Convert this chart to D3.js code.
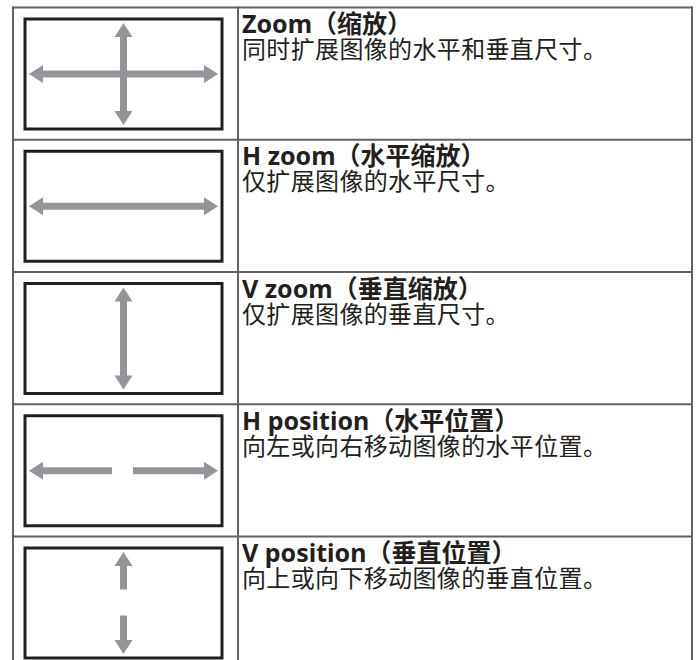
<!DOCTYPE html>
<html><head><meta charset="utf-8">
<script src="https://cdn.jsdelivr.net/npm/d3@7"></script>
<style>html,body{margin:0;padding:0;background:#fff;}svg{display:block;}</style>
</head><body>
<script>
const titles = ["Zoom（缩放）", "H zoom（水平缩放）", "V zoom（垂直缩放）", "H position（水平位置）", "V position（垂直位置）"];
const descriptions = ["同时扩展图像的水平和垂直尺寸。", "仅扩展图像的水平尺寸。", "仅扩展图像的垂直尺寸。", "向左或向右移动图像的水平位置。", "向上或向下移动图像的垂直位置。"];
// arrow kinds: "full" = double-headed, "split" = two separate arrows pointing outward, "none"
const horizontalArrow = ["full", "full", "none", "split", "none"];
const verticalArrow = ["full", "none", "full", "none", "split"];

const W = 696, H = 660;
const svg = d3.select("body").append("svg").attr("width", W).attr("height", H);

const rowIdx = d3.range(titles.length);
const tableTop = 7.5, rowH = 132.25;
const y = d3.scaleBand().domain(rowIdx).range([tableTop, tableTop + rowH * rowIdx.length]).padding(0);
const xL = 13, xMid = 238, xR = 692;

const lineColor = "#616264", boxColor = "#231f20", arrowColor = "#939598", textColor = "#231f20";

// table lines
const g = svg.append("g");
g.append("line").attr("x1", xL).attr("x2", xL).attr("y1", tableTop - 1).attr("y2", H).attr("stroke", lineColor).attr("stroke-width", 2);
g.append("line").attr("x1", xMid).attr("x2", xMid).attr("y1", tableTop - 1).attr("y2", H).attr("stroke", lineColor).attr("stroke-width", 2);
g.append("line").attr("x1", xR).attr("x2", xR).attr("y1", tableTop - 1).attr("y2", H).attr("stroke", lineColor).attr("stroke-width", 2);
g.selectAll("line.row").data(rowIdx).join("line").attr("class", "row")
  .attr("x1", xL - 1).attr("x2", xR + 1)
  .attr("y1", d => y(d)).attr("y2", d => y(d))
  .attr("stroke", lineColor).attr("stroke-width", 2);

// box local geometry
const bx0 = 25, bx1 = 222, bTop = 11.5, bH = 110;
const cx = (bx0 + bx1) / 2;

function arrowPath(x1, y1, x2, y2, head1, head2) {
  const sw = 3.5, hl = 14, hw = 9;
  const dx = x2 - x1, dy = y2 - y1, L = Math.hypot(dx, dy);
  const ux = dx / L, uy = dy / L, px = -uy, py = ux;
  const pts = [];
  const P = (t, o) => [x1 + ux * t + px * o, y1 + uy * t + py * o];
  const e = head2 ? L - hl : L;
  if (head1) { pts.push(P(0, 0), P(hl, hw), P(hl, sw)); } else { pts.push(P(0, sw)); }
  if (head2) { pts.push(P(e, sw), P(e, hw), P(L, 0), P(e, -hw), P(e, -sw)); } else { pts.push(P(L, sw), P(L, -sw)); }
  if (head1) { pts.push(P(hl, -sw), P(hl, -hw)); } else { pts.push(P(0, -sw)); }
  return "M" + pts.map(p => p[0].toFixed(2) + "," + p[1].toFixed(2)).join("L") + "Z";
}

const rows = svg.selectAll("g.r").data(rowIdx).join("g").attr("class", "r")
  .attr("transform", d => `translate(0,${y(d)})`);

rows.append("rect").attr("x", bx0).attr("y", bTop).attr("width", bx1 - bx0).attr("height", bH)
  .attr("fill", "none").attr("stroke", boxColor).attr("stroke-width", 3);

rows.each(function (i) {
  const r = d3.select(this);
  const cy = bTop + bH / 2;
  const hA = horizontalArrow[i], vA = verticalArrow[i];
  const paths = [];
  if (hA === "full") paths.push(arrowPath(cx - 94.5, cy, cx + 94.5, cy, true, true));
  if (hA === "split") {
    paths.push(arrowPath(cx - 94.5, cy, cx - 11.5, cy, true, false));
    paths.push(arrowPath(cx + 9.5, cy, cx + 94.5, cy, false, true));
  }
  if (vA === "full") paths.push(arrowPath(cx, cy - 51, cx, cy + 51, true, true));
  if (vA === "split") {
    paths.push(arrowPath(cx, cy - 51, cx, cy - 13.5, true, false));
    paths.push(arrowPath(cx, cy + 12.5, cx, cy + 51, false, true));
  }
  r.selectAll("path").data(paths).join("path").attr("d", d => d).attr("fill", arrowColor);
});

rows.append("text").attr("x", 242).attr("y", 25.5)
  .attr("font-family", "'Noto Sans', 'Noto Sans CJK SC', sans-serif").attr("font-weight", "bold")
  .attr("font-size", 25).attr("fill", textColor).text(d => titles[d]);
rows.append("text").attr("x", 242).attr("y", 50.5)
  .attr("font-family", "'Noto Sans CJK SC', sans-serif").attr("letter-spacing", 0.35)
  .attr("font-size", 24).attr("fill", textColor).text(d => descriptions[d]);
</script>
</body></html>
